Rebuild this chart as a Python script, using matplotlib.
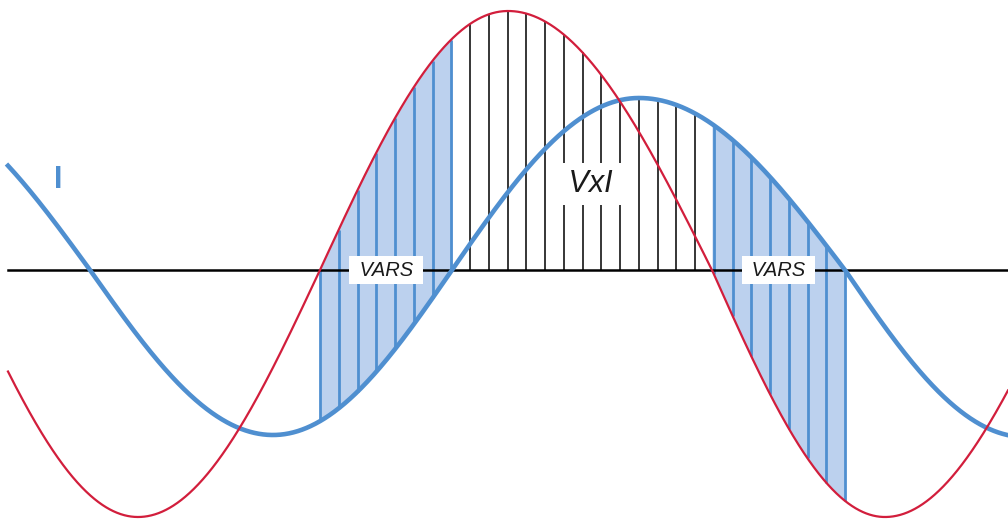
import numpy as np
import matplotlib
matplotlib.use("Agg")
import matplotlib.pyplot as plt

# ---- data (time units ~ pixels, value 0 = axis) ----
# wave nodes: zero crossings and extremes
v_nodes_t = [-40, 138, 320, 508, 712, 885, 1067]
v_nodes_val = [0, -247, 0, 259, 0, -247, 0]
i_nodes_t = [-105, 90, 273, 452, 639, 845, 1025, 1200]
i_nodes_val = [170, 0, -165, 0, 172, 0, -167, 0]

n_slices = 28          # hatching intervals between V rising zero and I falling zero
label_vars = "VARS"
label_power = "VxI"
label_current = "I"

RED = "#d21e3c"
BLUE = "#4f8fd0"
FILL = "#bcd1ee"


def wave(t_nodes, v_nodes, t):
    t = np.asarray(t, dtype=float)
    out = np.zeros_like(t)
    for j in range(len(t_nodes) - 1):
        a, b = t_nodes[j], t_nodes[j + 1]
        m = (t >= a) & (t <= b)
        s = (t[m] - a) / (b - a)
        va, vb = v_nodes[j], v_nodes[j + 1]
        if va == 0:
            out[m] = vb * np.sin(np.pi / 2 * s)
        else:
            out[m] = va * np.cos(np.pi / 2 * s)
    return out


V = lambda t: wave(v_nodes_t, v_nodes_val, t)
I = lambda t: wave(i_nodes_t, i_nodes_val, t)

fig = plt.figure(figsize=(10.08, 5.22), dpi=100)
ax = fig.add_axes([0, 0, 1, 1])
ax.set_xlim(0, 1008)
ax.set_ylim(-252, 270)
ax.axis("off")

t = np.linspace(8, 1008, 3001)

v_rise, v_fall = v_nodes_t[2], v_nodes_t[4]
i_rise, i_fall = i_nodes_t[3], i_nodes_t[5]

# shaded VAR regions
for a, b in [(v_rise, i_rise), (v_fall, i_fall)]:
    tt = np.linspace(a, b, 400)
    ax.fill_between(tt, V(tt), I(tt), color=FILL, lw=0, zorder=1)

# hatching lines
xs = np.linspace(v_rise, i_fall, n_slices + 1)
for x in xs:
    vv, ii = V([x])[0], I([x])[0]
    if x < i_rise - 1e-6 or x > v_fall - 1e-6:
        ax.plot([x, x], [vv, ii], color=BLUE, lw=2.0, zorder=2, solid_capstyle="butt")
    else:
        ax.plot([x, x], [0, max(vv, ii)], color="black", lw=1.1, zorder=2, solid_capstyle="butt")

# axis line
ax.plot([t[0], t[-1]], [0, 0], color="black", lw=1.8, zorder=3)

# labels
for a, b in [(v_rise, i_rise), (v_fall, i_fall)]:
    ax.text((a + b) / 2, 0, " " + label_vars + " ", fontsize=14.5, style="italic",
            family="Liberation Sans", color="#1a1a1a", ha="center", va="center",
            bbox=dict(boxstyle="square,pad=0.22", fc="white", ec="none"), zorder=4)

ax.text(591, 86, " " + label_power + " ", fontsize=22, style="italic",
        family="Liberation Sans", color="#1a1a1a", ha="center", va="center",
        bbox=dict(boxstyle="square,pad=0.2", fc="white", ec="none"), zorder=4)

ax.text(58, 90, label_current, fontsize=22, fontweight="bold", family="Liberation Sans",
        color=BLUE, ha="center", va="center", zorder=4)

# curves
ax.plot(t, I(t), color=BLUE, lw=3.3, zorder=5)
ax.plot(t, V(t), color=RED, lw=1.6, zorder=6)

fig.savefig("out.png", dpi=100, facecolor="white")
